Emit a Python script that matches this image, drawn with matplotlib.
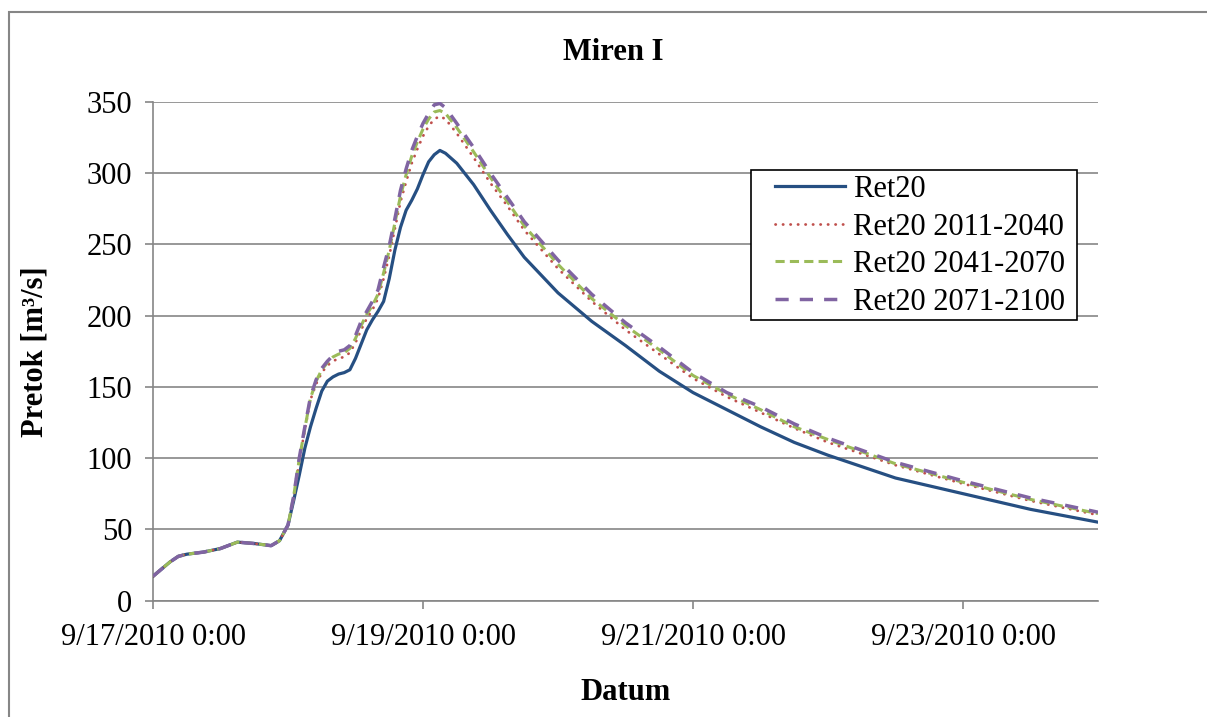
import matplotlib
matplotlib.use('Agg')
import matplotlib.pyplot as plt
import matplotlib.dates as mdates
import pandas as pd
from matplotlib.patches import Rectangle

plt.rcParams['font.family'] = ['Liberation Serif', 'DejaVu Serif']

# Data: hours since 9/17/2010 0:00
hours = [0, 1.5, 3, 4.5, 6, 9, 12, 15, 18, 21, 22.5, 24,
         25, 26, 27, 28, 29, 30, 31, 32, 33, 34, 35, 36, 37, 38, 39, 40,
         41, 42, 43, 44, 45, 46, 47, 48, 49, 50, 51, 52,
         54, 57, 60, 63, 66, 72, 78, 84, 90, 96, 102, 108, 114, 120,
         132, 144, 156, 168]

ret20 = [17, 22, 27, 31, 32.5, 34, 36.5, 41, 40, 38.5, 42, 53,
         70, 88, 107, 122, 135, 147, 154, 157, 159, 160, 162, 170, 180, 190, 197, 203,
         210, 226, 246, 262, 274, 281, 289, 299, 308, 313, 316, 314,
         307, 292, 274, 257, 241, 216, 196, 179, 161, 146, 134, 122, 111, 102,
         86, 75, 64, 55]

ret20_2011 = [17, 22, 27, 31, 32.5, 34, 36.5, 41, 40, 38.5, 42, 53,
              72, 98, 120, 141, 152, 160, 165, 168, 170, 171, 174, 181, 190, 198, 204, 212,
              226, 242, 261, 280, 294, 307, 317, 326, 333, 338, 340, 338,
              328, 311, 293, 277, 260, 233, 210, 190, 173, 156, 143, 132, 121, 111,
              95, 82, 70, 60]

ret20_2041 = [17, 22, 27, 31, 32.5, 34, 36.5, 41, 40, 38.5, 42, 53,
              73, 99, 121, 142, 154, 162, 167, 171, 173, 174, 177, 184, 193, 201, 207, 215,
              230, 246, 265, 284, 299, 312, 322, 331, 338, 343, 344, 342,
              332, 315, 297, 280, 263, 236, 212, 193, 176, 158, 145, 134, 122, 113,
              96, 83, 71, 61]

ret20_2071 = [17, 22, 27, 31, 32.5, 34, 36.5, 41, 40, 38.5, 42, 53,
              73, 100, 122, 143, 155, 163, 168, 172, 175, 176, 179, 186, 196, 203, 210, 218,
              234, 249, 268, 288, 303, 316, 326, 335, 342, 348, 349, 346,
              335, 318, 300, 283, 266, 239, 215, 195, 178, 160, 146, 136, 124, 114,
              97, 84, 72, 62]

labels = ['Ret20', 'Ret20 2011-2040', 'Ret20 2041-2070', 'Ret20 2071-2100']
tick_dates = ['2010-09-17', '2010-09-19', '2010-09-21', '2010-09-23']

start = pd.Timestamp('2010-09-17')
times = start + pd.to_timedelta(hours, unit='h')

W, H = 1207, 717
fig = plt.figure(figsize=(W / 100, H / 100), dpi=100)
ax = fig.add_axes([153 / W, 1 - 600.5 / H, (1098 - 153) / W, (600.5 - 102) / H])

grey = '#868686'
fs = 22

ax.plot(times, ret20, color='#264F82', lw=2.3, label=labels[0], zorder=3)
ax.plot(times, ret20_2011, color='#C0504D', lw=2.0, linestyle=(0, (0.1, 2.6)),
        dash_capstyle='round', label=labels[1], zorder=4)
ax.plot(times, ret20_2041, color='#9BBB59', lw=2.2, linestyle=(0, (3, 1.7)),
        label=labels[2], zorder=5)
ax.plot(times, ret20_2071, color='#8064A2', lw=2.5, linestyle=(0, (3.8, 3.2)),
        label=labels[3], zorder=6)

ax.set_xlim(start, start + pd.Timedelta(days=7))
ax.set_ylim(0, 350)
ax.set_yticks(range(0, 351, 50))
ticks = pd.to_datetime(tick_dates)
ax.set_xticks(ticks)
ax.set_xticklabels([f'{d.month}/{d.day}/{d.year} 0:00' for d in ticks])

ax.grid(axis='y', color=grey, lw=1.2)
ax.set_axisbelow(True)
for s in ['top', 'right']:
    ax.spines[s].set_visible(False)
for s in ['left', 'bottom']:
    ax.spines[s].set_color(grey)
    ax.spines[s].set_linewidth(1.2)
ax.tick_params(axis='both', colors=grey, labelcolor='black', labelsize=fs,
               length=6, width=1.2)
ax.tick_params(axis='x', pad=10)
ax.tick_params(axis='y', pad=9)

fig.text(613 / W, 1 - 52 / H, 'Miren I', ha='center', va='center',
         fontsize=fs, fontweight='bold')
fig.text(626 / W, 1 - 692 / H, 'Datum', ha='center', va='center',
         fontsize=fs, fontweight='bold')
fig.text(35 / W, 1 - 352 / H, 'Pretok [m³/s]', ha='center', va='center',
         rotation=90, fontsize=fs, fontweight='bold')

# legend box drawn separately, legend entries on top of it
ax.add_patch(Rectangle((751 / W, 1 - 320 / H), (1077 - 751) / W, 150 / H,
                       transform=fig.transFigure, facecolor='white',
                       edgecolor='black', lw=1.2, zorder=9, clip_on=False))
leg = ax.legend(loc='upper left', bbox_to_anchor=(775 / W, 1 - 175 / H),
                bbox_transform=fig.transFigure, fontsize=fs, frameon=False,
                handlelength=2.3, handletextpad=0.25, labelspacing=0.28,
                borderpad=0, borderaxespad=0)
leg.set_zorder(10)

# outer chart frame
fig.patches.append(Rectangle((9 / W, -0.1), 1.2, 1 - 12 / H + 0.1,
                             transform=fig.transFigure, fill=False,
                             edgecolor=grey, lw=1.5))

fig.savefig('out.png', dpi=100, facecolor='white')
